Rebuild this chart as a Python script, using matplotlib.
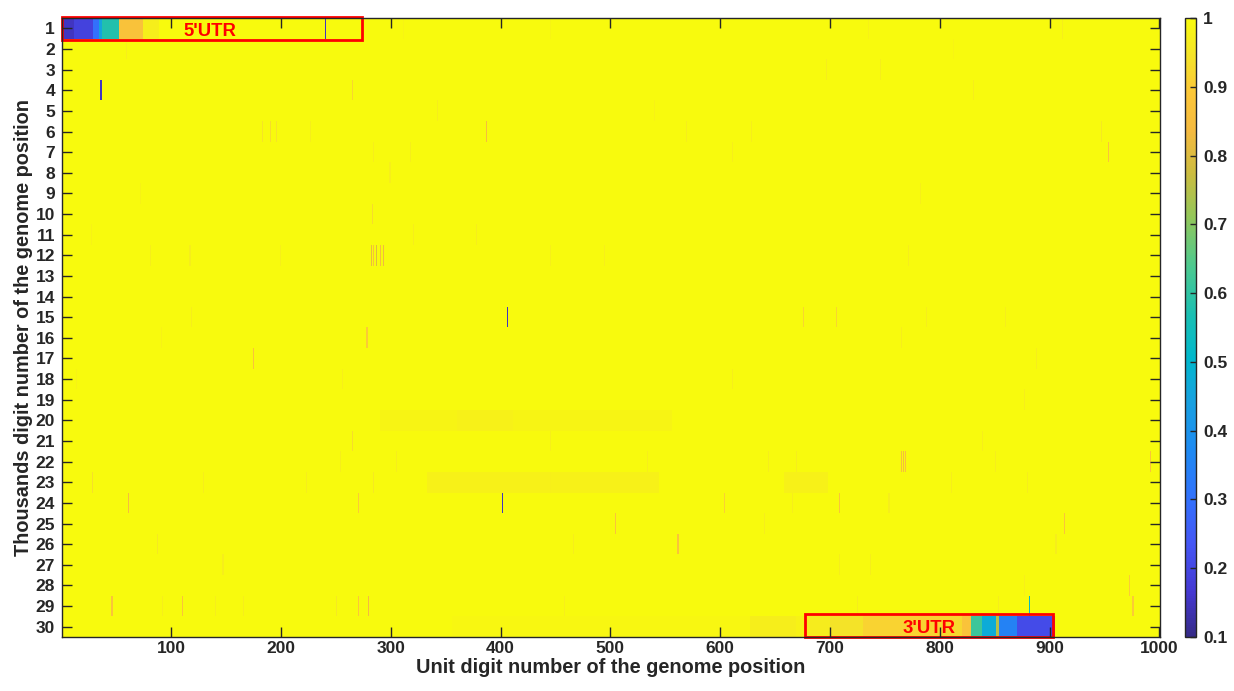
import numpy as np
import matplotlib
matplotlib.use("Agg")
import matplotlib.pyplot as plt
from matplotlib.colors import LinearSegmentedColormap
from matplotlib.patches import Rectangle

plt.rcParams['font.family'] = ['Liberation Sans', 'DejaVu Sans']
plt.rcParams['font.weight'] = 'bold'

n_rows, n_cols = 30, 1000

# 5'UTR run in row 1: column edges and the value of each piece
utr5_edges = [1, 12, 29, 35, 37, 53, 75, 89]
utr5_values = [0.15, 0.19, 0.30, 0.45, 0.58, 0.87, 0.97]

# 3'UTR run in row 30
utr3_edges = [579, 627, 669, 678, 700, 730, 800, 820, 828, 838, 851, 854, 870, 905]
utr3_values = [0.99, 0.97, 0.98, 0.965, 0.945, 0.915, 0.925, 0.875, 0.62, 0.47, 0.75, 0.35, 0.21]

# faint wide bands (row, start col, end col, value)
band_rows = [20, 20, 23, 23, 30]
band_start = [290, 360, 333, 658, 356]
band_end = [555, 410, 543, 697, 579]
band_vals = [0.985, 0.978, 0.978, 0.978, 0.99]

# single column lines and short stripes
line_rows = [1, 1, 1, 1, 1, 2, 2, 3, 3, 4, 4, 4, 5, 5, 6, 6, 6, 6, 6, 6, 6, 6,
             7, 7, 7, 7, 8, 9, 9, 10, 11, 11, 11, 12, 12, 12, 12, 12, 12, 12, 12, 12,
             12, 12, 15, 15, 15, 15, 15, 15, 16, 16, 16, 17, 17, 18, 18, 18, 19,
             21, 21, 21, 22, 22, 22, 22, 22, 22, 22, 22, 22, 22, 23, 23, 23, 23,
             23, 23, 23, 24, 24, 24, 24, 24, 24, 24, 25, 25, 25, 26, 26, 26, 26,
             27, 27, 27, 28, 28, 29, 29, 29, 29, 29, 29, 29, 29, 29, 29, 29, 29, 29]
line_cols = [240, 311, 445, 734, 911, 59, 812, 696, 745, 36, 265, 830, 342, 540,
             183, 190, 196, 227, 387, 569, 628, 946, 284, 318, 611, 953, 299, 72,
             782, 283, 27, 320, 378, 81, 117, 199, 282, 284, 287, 290, 293, 445,
             494, 771, 118, 406, 675, 705, 787, 859, 91, 278, 764, 175, 887, 14,
             256, 611, 876, 265, 445, 838, 254, 305, 533, 643, 669, 764, 766, 768,
             850, 991, 28, 129, 223, 284, 445, 810, 879, 61, 270, 401, 603, 665,
             708, 753, 504, 640, 913, 87, 466, 561, 905, 147, 708, 736, 876, 972,
             46, 92, 110, 140, 166, 250, 270, 279, 458, 724, 853, 881, 975]
line_vals = [0.15, 0.985, 0.985, 0.98, 0.97, 0.975, 0.985, 0.97, 0.97, 0.15, 0.92,
             0.97, 0.97, 0.98, 0.95, 0.93, 0.95, 0.97, 0.85, 0.97, 0.97, 0.96, 0.97,
             0.97, 0.97, 0.88, 0.975, 0.98, 0.975, 0.93, 0.98, 0.97, 0.97, 0.97,
             0.97, 0.975, 0.82, 0.86, 0.80, 0.85, 0.83, 0.975, 0.975, 0.97, 0.97,
             0.15, 0.92, 0.92, 0.97, 0.97, 0.98, 0.90, 0.97, 0.87, 0.97, 0.98,
             0.975, 0.97, 0.97, 0.93, 0.975, 0.97, 0.97, 0.97, 0.975, 0.97, 0.97,
             0.85, 0.84, 0.86, 0.97, 0.88, 0.94, 0.97, 0.97, 0.96, 0.975, 0.97,
             0.97, 0.85, 0.90, 0.15, 0.91, 0.97, 0.88, 0.97, 0.88, 0.97, 0.88,
             0.96, 0.97, 0.88, 0.97, 0.97, 0.97, 0.97, 0.975, 0.90, 0.88, 0.97,
             0.88, 0.97, 0.97, 0.96, 0.89, 0.84, 0.975, 0.97, 0.97, 0.52, 0.90]

# parula-like colour map
parula_pos = [0.00, 0.07, 0.15, 0.22, 0.30, 0.38, 0.45, 0.52, 0.60, 0.68, 0.75, 0.82, 0.88, 0.94, 1.00]
parula_rgb = [(0.208, 0.166, 0.529), (0.270, 0.220, 0.820), (0.270, 0.340, 0.960),
              (0.200, 0.440, 0.990), (0.120, 0.540, 0.950), (0.090, 0.630, 0.880),
              (0.000, 0.720, 0.800), (0.100, 0.750, 0.700), (0.300, 0.790, 0.560),
              (0.580, 0.780, 0.350), (0.800, 0.740, 0.250), (0.960, 0.730, 0.250),
              (0.990, 0.780, 0.220), (0.960, 0.890, 0.160), (0.976, 0.983, 0.054)]
parula = LinearSegmentedColormap.from_list("parula", list(zip(parula_pos, parula_rgb)))

# build the grid
data = np.ones((n_rows, n_cols))
for a, b, v in zip(utr5_edges[:-1], utr5_edges[1:], utr5_values):
    data[0, a - 1:b - 1] = v
for a, b, v in zip(utr3_edges[:-1], utr3_edges[1:], utr3_values):
    data[29, a - 1:b - 1] = v
for r, a, b, v in zip(band_rows, band_start, band_end, band_vals):
    data[r - 1, a - 1:b] = v
for r, c, v in zip(line_rows, line_cols, line_vals):
    data[r - 1, c - 1] = v

ink = '#262626'
fig = plt.figure(figsize=(12.34, 6.91), dpi=100)
ax = fig.add_axes([0.0502, 0.0781, 0.8898, 0.8958])
cax = fig.add_axes([0.9603, 0.0781, 0.0089, 0.8958])

im = ax.imshow(data, cmap=parula, vmin=0.1, vmax=1, aspect='auto',
               extent=(0.5, n_cols + 0.5, n_rows + 0.5, 0.5), interpolation='nearest')

ax.set_xticks(np.arange(100, 1001, 100))
ax.set_yticks(np.arange(1, 31))
ax.tick_params(direction='in', length=7.5, width=1, color=ink, labelcolor=ink,
               labelsize=12.5, top=True, right=True, pad=5)
ax.tick_params(axis='x', pad=3)
for s in ax.spines.values():
    s.set_color(ink)
    s.set_linewidth(1)
ax.set_xlabel("Unit digit number of the genome position", fontsize=14.3,
              fontweight='bold', color=ink, labelpad=1)
ax.set_ylabel("Thousands digit number of the genome position", fontsize=14.3,
              fontweight='bold', color=ink, labelpad=2)

# UTR boxes
ax.add_patch(Rectangle((0.5, 0.45), 273, 1.1, fill=False, edgecolor='red', lw=2, clip_on=False))
ax.add_patch(Rectangle((677, 29.36), 226.5, 1.14, fill=False, edgecolor='red', lw=2, clip_on=False))
ax.text(135, 1.15, "5'UTR", color='red', fontsize=13.3, fontweight='bold', ha='center', va='center')
ax.text(790, 30.1, "3'UTR", color='red', fontsize=13.3, fontweight='bold', ha='center', va='center')

cb = fig.colorbar(im, cax=cax, ticks=np.arange(0.1, 1.01, 0.1))
cb.ax.set_yticklabels(['0.1', '0.2', '0.3', '0.4', '0.5', '0.6', '0.7', '0.8', '0.9', '1'])
cb.ax.tick_params(direction='in', length=4, width=1, color=ink, labelcolor=ink,
                  labelsize=12.5, pad=5)
cb.outline.set_edgecolor(ink)
cb.outline.set_linewidth(1)

fig.savefig("out.png", dpi=100)
